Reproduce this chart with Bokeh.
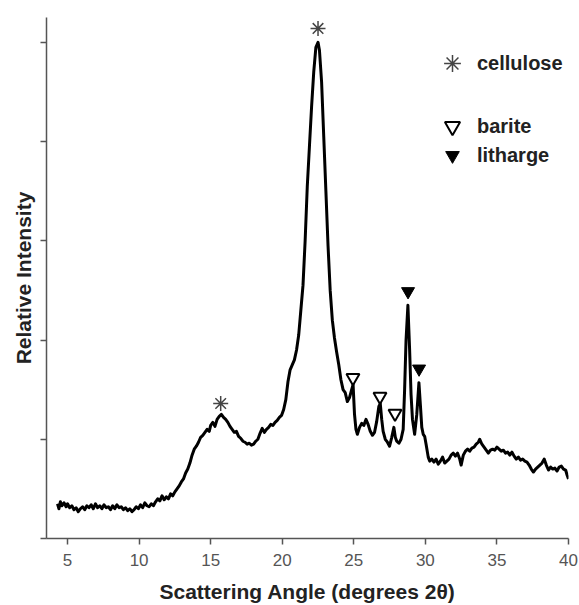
from bokeh.plotting import figure
from bokeh.models import Range1d, FixedTicker, Legend, LegendItem
from bokeh.embed import file_html
from bokeh.resources import INLINE

# --- data ---
angle = [4.3, 4.4, 4.5, 4.6, 4.75, 4.9, 5.0, 5.15, 5.3, 5.45, 5.6, 5.75, 5.9, 6.05, 6.2, 6.35,
         6.5, 6.65, 6.8, 6.95, 7.1, 7.25, 7.4, 7.55, 7.7, 7.85, 8.0, 8.15, 8.3, 8.45, 8.6, 8.75,
         8.9, 9.05, 9.2, 9.35, 9.5, 9.65, 9.8, 9.95, 10.1, 10.25, 10.4, 10.55, 10.7, 10.85, 11.0,
         11.15, 11.3, 11.45, 11.6, 11.75, 11.9, 12.05, 12.2, 12.35, 12.5, 12.65, 12.8, 12.95, 13.1,
         13.25, 13.4, 13.55, 13.7, 13.85, 14.0, 14.15, 14.3, 14.45, 14.6, 14.75, 14.9, 15.0, 15.15,
         15.3, 15.45, 15.6, 15.75, 15.9, 16.05, 16.2, 16.35, 16.5, 16.65, 16.8, 16.95, 17.1, 17.25,
         17.4, 17.55, 17.7, 17.85, 18.0, 18.15, 18.3, 18.45, 18.6, 18.75, 18.9, 19.05, 19.2, 19.35,
         19.5, 19.65, 19.8, 19.95, 20.1, 20.25, 20.4, 20.55, 20.7, 20.85, 21.0, 21.15, 21.3, 21.45,
         21.6, 21.75, 21.9, 22.05, 22.2, 22.35, 22.5, 22.6, 22.75, 22.9, 23.05, 23.2, 23.35, 23.5,
         23.65, 23.8, 23.95, 24.1, 24.25, 24.4, 24.55, 24.7, 24.85, 24.95, 25.05, 25.15, 25.25,
         25.4, 25.55, 25.7, 25.85, 26.0, 26.15, 26.3, 26.45, 26.6, 26.75, 26.85, 26.95, 27.05,
         27.2, 27.35, 27.5, 27.65, 27.8, 27.9, 28.0, 28.15, 28.3, 28.45, 28.55, 28.65, 28.78,
         28.9, 29.0, 29.1, 29.25, 29.4, 29.55, 29.65, 29.75, 29.85, 29.95, 30.05, 30.2, 30.3,
         30.45, 30.6, 30.75, 30.9, 31.05, 31.2, 31.35, 31.5, 31.65, 31.8, 31.95, 32.1, 32.25,
         32.4, 32.5, 32.65, 32.8, 32.95, 33.1, 33.25, 33.4, 33.55, 33.7, 33.8, 33.95, 34.1, 34.25,
         34.4, 34.55, 34.7, 34.85, 35.0, 35.15, 35.3, 35.45, 35.6, 35.75, 35.9, 36.05, 36.2,
         36.35, 36.5, 36.65, 36.8, 36.95, 37.1, 37.25, 37.4, 37.55, 37.7, 37.85, 38.0, 38.15,
         38.3, 38.45, 38.6, 38.75, 38.9, 39.05, 39.2, 39.35, 39.5, 39.65, 39.8, 39.9, 40.0]
intensity = [0.35, 0.30, 0.37, 0.33, 0.36, 0.32, 0.35, 0.31, 0.33, 0.29, 0.31, 0.27, 0.30, 0.32,
             0.29, 0.33, 0.31, 0.34, 0.30, 0.35, 0.31, 0.33, 0.30, 0.34, 0.31, 0.32, 0.29, 0.33,
             0.30, 0.34, 0.31, 0.32, 0.29, 0.31, 0.28, 0.30, 0.27, 0.29, 0.32, 0.30, 0.34, 0.31,
             0.36, 0.33, 0.32, 0.35, 0.33, 0.37, 0.40, 0.38, 0.43, 0.39, 0.42, 0.40, 0.45, 0.43,
             0.47, 0.50, 0.53, 0.57, 0.60, 0.66, 0.70, 0.76, 0.84, 0.90, 0.93, 0.97, 1.02, 1.04,
             1.07, 1.10, 1.08, 1.14, 1.17, 1.13, 1.20, 1.23, 1.25, 1.22, 1.20, 1.17, 1.13, 1.10,
             1.07, 1.08, 1.03, 1.01, 0.98, 0.97, 0.95, 0.96, 0.94, 0.95, 0.98, 1.00, 1.06, 1.11,
             1.07, 1.10, 1.12, 1.15, 1.14, 1.17, 1.19, 1.22, 1.24, 1.30, 1.40, 1.58, 1.70, 1.75,
             1.80, 1.90, 2.05, 2.30, 2.55, 3.00, 3.55, 3.95, 4.35, 4.70, 4.95, 5.00, 4.92, 4.60,
             4.05, 3.50, 2.95, 2.50, 2.20, 2.02, 1.88, 1.75, 1.60, 1.50, 1.47, 1.38, 1.42, 1.50,
             1.55, 1.25, 1.10, 1.05, 1.12, 1.16, 1.14, 1.20, 1.15, 1.08, 1.04, 1.07, 1.18, 1.33,
             1.36, 1.20, 1.08, 1.00, 0.97, 0.93, 1.02, 1.12, 1.02, 0.98, 0.96, 1.00, 1.10, 1.50,
             2.00, 2.35, 1.90, 1.45, 1.20, 1.05, 1.25, 1.57, 1.35, 1.12, 1.05, 1.03, 0.95, 0.82,
             0.78, 0.80, 0.77, 0.80, 0.75, 0.78, 0.82, 0.76, 0.78, 0.80, 0.84, 0.86, 0.83, 0.86,
             0.80, 0.74, 0.84, 0.88, 0.90, 0.88, 0.91, 0.92, 0.95, 0.97, 1.00, 0.95, 0.92, 0.89,
             0.86, 0.89, 0.90, 0.89, 0.92, 0.90, 0.88, 0.89, 0.86, 0.87, 0.84, 0.87, 0.83, 0.80,
             0.82, 0.79, 0.80, 0.78, 0.77, 0.74, 0.70, 0.67, 0.70, 0.72, 0.74, 0.76, 0.80, 0.74,
             0.69, 0.72, 0.70, 0.71, 0.68, 0.72, 0.73, 0.70, 0.69, 0.64, 0.60]

cellulose_x = [15.7, 22.5]
cellulose_y = [1.36, 5.14]
barite_x = [24.94, 26.83, 27.88]
barite_y = [1.62, 1.43, 1.26]
litharge_x = [28.79, 29.56]
litharge_y = [2.49, 1.71]

x_ticks = [5, 10, 15, 20, 25, 30, 35, 40]
y_ticks = [0, 1, 2, 3, 4, 5]

FONT = "Liberation Sans"
AXIS_COL = "#555555"

p = figure(width=579, height=605, output_backend="svg", toolbar_location=None,
           x_range=Range1d(3.53, 40.0), y_range=Range1d(0, 5.25),
           min_border_left=46, min_border_right=11, min_border_top=17, min_border_bottom=67)
p.outline_line_color = None
p.grid.visible = False
p.background_fill_color = "white"
p.border_fill_color = "white"

p.line(angle, intensity, line_color="black", line_width=3, line_join="round")

r_cell = p.scatter(cellulose_x, cellulose_y, marker="asterisk", size=15,
                   line_color="#444444", line_width=1.5)
r_bar = p.scatter(barite_x, barite_y, marker="inverted_triangle", size=13,
                  line_color="black", fill_color="white", line_width=2)
r_lit = p.scatter(litharge_x, litharge_y, marker="inverted_triangle", size=13,
                  line_color="black", fill_color="black", line_width=1)

# axes
xa = p.xaxis[0]
xa.ticker = FixedTicker(ticks=x_ticks)
xa.axis_label = "Scattering Angle (degrees 2θ)"
ya = p.yaxis[0]
ya.ticker = FixedTicker(ticks=y_ticks)
ya.major_label_overrides = {t: "" for t in y_ticks}
ya.axis_label = "Relative Intensity"
for ax in (xa, ya):
    ax.axis_line_color = AXIS_COL
    ax.axis_line_width = 1.5
    ax.major_tick_line_color = AXIS_COL
    ax.major_tick_line_width = 1.5
    ax.major_tick_out = 6
    ax.major_tick_in = 0
    ax.minor_tick_line_color = None
    ax.axis_label_text_font = FONT
    ax.axis_label_text_font_style = "bold"
    ax.axis_label_text_font_size = "21px"
    ax.axis_label_text_color = "#222222"
    ax.major_label_text_font = FONT
    ax.major_label_text_font_size = "17px"
    ax.major_label_text_color = "#555555"
xa.major_label_standoff = 9
xa.axis_label_standoff = 11
ya.major_label_standoff = 0
ya.axis_label_standoff = 6


def make_legend(renderer, label, glyph, loc, standoff):
    lg = Legend(items=[LegendItem(label=label, renderers=[renderer])],
                location=loc, glyph_width=glyph, glyph_height=glyph,
                label_standoff=standoff, padding=0, margin=0, spacing=0,
                border_line_color=None, background_fill_alpha=0,
                label_text_font=FONT, label_text_font_style="bold",
                label_text_font_size="20px", label_text_color="#222222")
    p.add_layout(lg, "center")


make_legend(r_cell, "cellulose", 42, (385, 454), 4)
make_legend(r_bar, "barite", 38, (387, 393), 6)
make_legend(r_lit, "litharge", 34, (389, 366), 8)

open("out.html", "w").write(file_html(p, INLINE))
